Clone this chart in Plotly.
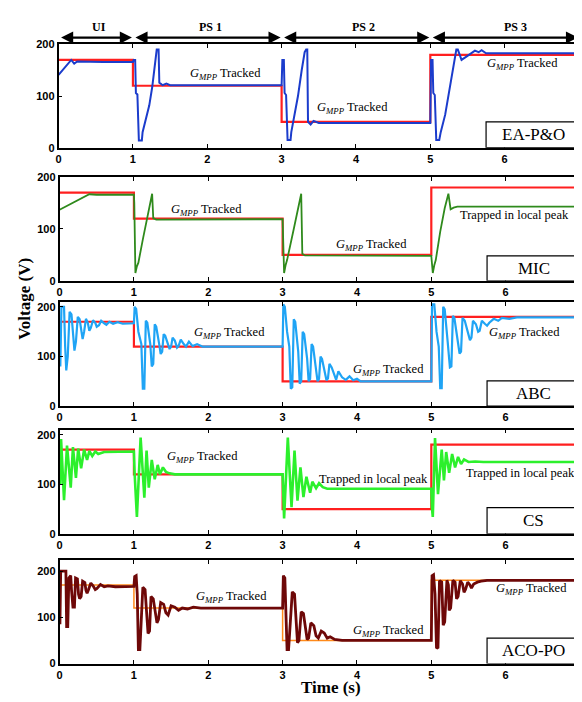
import plotly.graph_objects as go

# The page body has an 8 px margin, so the figure is laid out 8 px in from the window corner.
OFF = 8
WIN_W, WIN_H = 582, 702
W, H = WIN_W - OFF, WIN_H - OFF

# ---------------- data ----------------
# reference (true GMPP voltage) step profile
REF_T = [0, 1, 3, 5, 7]
REF_V = [170, 120, 50, 180, 180]

# EA-P&O
EA_T = [0, 0.17, 0.21, 0.25, 0.6, 1.0, 1.01, 1.03, 1.04, 1.06, 1.08, 1.12, 1.13, 1.17, 1.22, 1.26, 1.3, 1.32, 1.345, 1.355, 1.4, 1.45, 1.5,
        3.0, 3.01, 3.03, 3.04, 3.06, 3.08, 3.12, 3.13, 3.17, 3.22, 3.27, 3.31, 3.33, 3.345, 3.355, 3.39, 3.43, 3.5,
        5.0, 5.01, 5.03, 5.04, 5.06, 5.08, 5.12, 5.14, 5.2, 5.26, 5.31, 5.35, 5.37, 5.42, 5.5, 5.6, 5.65, 5.69, 5.75, 5.8, 7.0]
EA_V = [141, 170, 163, 167, 166, 166, 170, 170, 106, 103, 14, 14, 30, 56, 82, 118, 165, 190, 190, 126, 121, 124, 121,
        121, 170, 170, 106, 102, 15, 15, 30, 60, 100, 150, 185, 190, 190, 50, 45, 52, 48,
        48, 170, 170, 106, 102, 15, 15, 30, 64, 115, 159, 190, 190, 170, 178, 188, 185, 189, 183, 183, 183]

# MIC
MIC_T = [0, 0.4, 0.5, 1.0, 1.005, 1.02, 1.04, 1.06, 1.12, 1.2, 1.245, 1.26, 1.3, 3.0, 3.005, 3.02, 3.04, 3.06, 3.15, 3.21, 3.25, 3.265, 3.3,
         5.0, 5.005, 5.02, 5.04, 5.06, 5.12, 5.18, 5.23, 5.26, 5.3, 5.35, 7.0]
MIC_V = [137, 167, 166, 166, 150, 15, 28, 35, 80, 135, 168, 121, 118, 119, 100, 15, 30, 40, 100, 145, 168, 52, 49,
         48, 40, 15, 30, 40, 95, 140, 168, 138, 141, 143, 143]

# ABC
ABC_T = [0, 0.01, 0.025, 0.06, 0.075, 0.09, 0.11, 0.135, 0.16, 0.18, 0.2, 0.22, 0.245, 0.27, 0.29, 0.31, 0.33, 0.355, 0.38, 0.4, 0.42,
         0.45, 0.48, 0.5, 0.53, 0.56, 0.6, 0.63, 0.67, 0.72, 0.78, 0.85, 1.0,
         1.01, 1.03, 1.06, 1.1, 1.12, 1.14, 1.16, 1.18, 1.22, 1.24, 1.26, 1.28, 1.3, 1.34, 1.36, 1.38, 1.4, 1.42, 1.46, 1.48, 1.5, 1.52,
         1.55, 1.58, 1.6, 1.63, 1.67, 1.7, 1.74, 1.79, 1.85, 1.92, 3.0,
         3.01, 3.03, 3.06, 3.09, 3.11, 3.13, 3.15, 3.17, 3.21, 3.23, 3.25, 3.27, 3.29, 3.33, 3.35, 3.37, 3.39, 3.41, 3.45, 3.47, 3.49,
         3.51, 3.53, 3.57, 3.59, 3.61, 3.63, 3.66, 3.7, 3.72, 3.75, 3.8, 3.85, 3.9, 3.95, 4.0, 4.05, 5.0,
         5.01, 5.04, 5.07, 5.1, 5.12, 5.14, 5.16, 5.18, 5.22, 5.25, 5.27, 5.29, 5.31, 5.35, 5.38, 5.4, 5.42, 5.45, 5.49, 5.52, 5.54,
         5.56, 5.6, 5.63, 5.65, 5.68, 5.72, 5.75, 5.78, 5.84, 5.9, 5.95, 6.05, 6.15, 7.0]
ABC_V = [140, 80, 200, 200, 120, 72, 100, 190, 185, 145, 112, 130, 180, 175, 150, 135, 150, 176, 168, 152, 158,
         173, 168, 160, 163, 172, 167, 164, 170, 166, 169, 166, 167,
         200, 196, 150, 125, 35, 35, 172, 168, 125, 80, 85, 165, 160, 125, 105, 110, 145, 142, 122, 115, 120, 138,
         132, 118, 121, 134, 125, 120, 130, 121, 125, 120, 120,
         205, 200, 150, 120, 35, 38, 175, 170, 110, 45, 50, 150, 145, 95, 50, 55, 125, 120, 80, 50, 55,
         100, 95, 70, 52, 56, 85, 78, 60, 53, 70, 58, 53, 60, 52, 55, 50, 50,
         205, 205, 150, 120, 36, 36, 200, 195, 130, 78, 80, 182, 178, 140, 106, 110, 178, 172, 150, 133, 138,
         172, 165, 150, 152, 172, 166, 162, 168, 176, 172, 178, 176, 179, 179]

# CS
CS_T = [0, 0.01, 0.02, 0.03, 0.06, 0.1, 0.15, 0.18, 0.22, 0.25, 0.29, 0.33, 0.37, 0.4, 0.44, 0.48, 0.52, 0.6, 1.0,
        1.01, 1.04, 1.09, 1.14, 1.17, 1.2, 1.24, 1.28, 1.32, 1.35, 1.39, 1.43, 1.48, 1.55, 3.0,
        3.01, 3.02, 3.07, 3.12, 3.16, 3.2, 3.24, 3.28, 3.32, 3.37, 3.4, 3.45, 3.49, 3.54, 3.6, 5.0,
        5.01, 5.02, 5.05, 5.09, 5.14, 5.17, 5.2, 5.24, 5.28, 5.32, 5.36, 5.4, 5.44, 5.5, 5.59, 5.7, 7.0]
CS_V = [140, 100, 191, 150, 68, 178, 93, 175, 113, 172, 132, 170, 149, 167, 157, 166, 161, 165, 166,
        120, 34, 194, 73, 168, 93, 149, 110, 139, 120, 134, 125, 122, 120, 120,
        60, 31, 194, 54, 168, 67, 134, 74, 115, 83, 105, 92, 102, 94, 91, 91,
        50, 34, 193, 80, 170, 108, 165, 123, 161, 134, 155, 141, 150, 145, 146, 145, 145]

# ACO-PO
ACO_T = [0, 0.005, 0.015, 0.085, 0.095, 0.11, 0.125, 0.15, 0.16, 0.18, 0.2, 0.215, 0.24, 0.255, 0.27, 0.29, 0.31, 0.34, 0.355, 0.37,
         0.39, 0.42, 0.45, 0.48, 0.5, 0.55, 0.6, 0.65, 0.75, 1.0,
         1.01, 1.03, 1.045, 1.06, 1.08, 1.1, 1.12, 1.15, 1.17, 1.19, 1.21, 1.23, 1.26, 1.29, 1.31, 1.33, 1.36, 1.4, 1.43, 1.46, 1.5,
         1.55, 1.6, 1.65, 1.72, 1.8, 1.9, 3.0,
         3.01, 3.03, 3.045, 3.06, 3.08, 3.11, 3.13, 3.16, 3.18, 3.2, 3.22, 3.25, 3.28, 3.31, 3.33, 3.35, 3.38, 3.42, 3.45, 3.48, 3.52,
         3.56, 3.6, 3.64, 3.7, 3.8, 5.0,
         5.01, 5.03, 5.05, 5.07, 5.09, 5.11, 5.14, 5.15, 5.16, 5.18, 5.21, 5.23, 5.24, 5.26, 5.29, 5.32, 5.34, 5.36, 5.39, 5.42, 5.44,
         5.46, 5.49, 5.52, 5.54, 5.57, 5.62, 5.67, 5.75, 7.0]
ACO_V = [138, 85, 200, 200, 80, 80, 185, 190, 160, 122, 122, 185, 183, 150, 140, 145, 178, 175, 158, 152,
         160, 174, 168, 160, 162, 171, 166, 168, 166, 167,
         188, 190, 150, 30, 30, 100, 165, 160, 120, 65, 70, 145, 140, 110, 88, 95, 132, 128, 110, 105, 125,
         122, 115, 120, 118, 122, 120, 120,
         190, 185, 120, 30, 30, 120, 155, 150, 100, 45, 50, 112, 108, 70, 52, 55, 88, 82, 60, 55, 70,
         66, 55, 58, 52, 50, 50,
         190, 192, 150, 33, 35, 179, 176, 120, 83, 90, 180, 170, 115, 120, 180, 176, 140, 145, 179, 172, 154,
         160, 176, 170, 163, 172, 176, 178, 180, 180]

NAMES = ["EA-P&O", "MIC", "ABC", "CS", "ACO-PO"]
PHASES = ["UI", "PS 1", "PS 2", "PS 3"]
PHASE_BOUNDS = [0, 1, 3, 5, 7]
X_TICKS = [0, 1, 2, 3, 4, 5, 6, 7]
Y_TICKS = [0, 100, 200]

G = "<i>G</i><sub><i>MPP</i></sub> Tracked"
TRAP = "Trapped in local peak"


def px(x):  # window x pixel -> paper fraction
    return (x - OFF) / W


def py(y):  # window y pixel -> paper fraction (from bottom)
    return 1 - (y - OFF) / H


# ---------------- layout geometry (window pixels) ----------------
panels = [
    dict(t=EA_T, v=EA_V, left=56, top=39, bot=144, ymax=200, col="#1b3ccc", ref="#ff1f1f", rw=2.2, cw=2.0, box=50,
         notes=[(2.24, 143, G), (3.95, 76, G), (6.24, 162, G)]),
    dict(t=MIC_T, v=MIC_V, left=57, top=174, bot=279.5, ymax=200, col="#2f8a1c", ref="#ff1f1f", rw=2.2, cw=1.8, box=48,
         notes=[(1.97, 137, G), (4.19, 70, G), (6.12, 126, TRAP)]),
    dict(t=ABC_T, v=ABC_V, left=57, top=301, bot=407, ymax=210, col="#1fa4f5", ref="#ff1f1f", rw=2.2, cw=2.2, box=51,
         notes=[(2.29, 148, G), (4.43, 72, G), (6.25, 147, G)]),
    dict(t=CS_T, v=CS_V, left=57, top=431, bot=537, ymax=210, col="#2cf02c", ref="#ff1f1f", rw=2.2, cw=2.6, box=53,
         notes=[(1.92, 154, G), (4.22, 110, TRAP), (6.2, 123, TRAP)]),
    dict(t=ACO_T, v=ACO_V, left=57, top=564, bot=669, ymax=223, col="#6e0808", ref="#ff8a1a", rw=1.5, cw=2.8, box=55,
         notes=[(2.31, 143, G), (4.43, 70, G), (6.35, 162, G)]),
]

PX_PER_S = 75.0
BOX_T0 = 5.75
fig = go.Figure()
layout = dict(width=W, height=H, margin=dict(l=0, r=0, t=0, b=0), autosize=False,
              paper_bgcolor="white", plot_bgcolor="white", showlegend=False)
annotations = []
shapes = []

tickfont = dict(family="Liberation Sans", size=11, color="black", weight="bold")
notefont = dict(family="Liberation Serif", size=12.5, color="black")

for i, p in enumerate(panels):
    n = "" if i == 0 else str(i + 1)
    xa, ya = "x" + n, "y" + n
    xmax = (WIN_W - p["left"]) / PX_PER_S
    fig.add_trace(go.Scatter(x=REF_T, y=REF_V, mode="lines", line_shape="hv",
                             line=dict(color=p["ref"], width=p["rw"]), xaxis=xa, yaxis=ya, hoverinfo="skip"))
    fig.add_trace(go.Scatter(x=p["t"], y=p["v"], mode="lines",
                             line=dict(color=p["col"], width=p["cw"]), xaxis=xa, yaxis=ya, hoverinfo="skip"))
    xt = X_TICKS if i == 0 else X_TICKS[:-1]
    layout["xaxis" + n] = dict(domain=[px(p["left"]), 1.0], range=[0, xmax], anchor=ya,
                               tickvals=xt, ticktext=[str(v) for v in xt], ticks="inside", ticklen=4,
                               tickcolor="black", showline=True, linecolor="black", linewidth=1.6, mirror="ticks",
                               showgrid=False, zeroline=False, tickfont=tickfont)
    layout["yaxis" + n] = dict(domain=[py(p["bot"]), py(p["top"])], range=[0, p["ymax"]], anchor=xa,
                               tickvals=Y_TICKS, ticks="inside", ticklen=4, tickcolor="black",
                               showline=True, linecolor="black", linewidth=1.6, mirror="ticks",
                               showgrid=False, zeroline=False, tickfont=tickfont)
    # method label box
    shapes.append(dict(type="rect", xref=xa, yref=ya, x0=BOX_T0, x1=xmax + 0.2, y0=0, y1=p["box"],
                       line=dict(color="black", width=1.2), fillcolor="white", layer="above"))
    box_left_px = p["left"] + BOX_T0 * PX_PER_S
    annotations.append(dict(xref="paper", yref=ya, x=px((box_left_px + WIN_W) / 2), y=p["box"] / 2,
                            text=NAMES[i], showarrow=False, xanchor="center", yanchor="middle",
                            font=dict(family="Liberation Serif", size=17, color="black")))
    for (tx, vy, txt) in p["notes"]:
        annotations.append(dict(xref=xa, yref=ya, x=tx, y=vy, text=txt, showarrow=False,
                                xanchor="center", yanchor="middle", font=notefont))

# phase arrows and labels on top
for k in range(4):
    a, b = PHASE_BOUNDS[k], PHASE_BOUNDS[k + 1]
    annotations.append(dict(xref="x", yref="paper", x=b, y=py(32), ax=a, ay=0, axref="x", ayref="pixel",
                            text="", showarrow=True, arrowhead=2, startarrowhead=2, arrowside="end+start",
                            arrowsize=1.1, startarrowsize=1.1, arrowwidth=2.2, arrowcolor="black",
                            standoff=1, startstandoff=1))
    annotations.append(dict(xref="x", yref="paper", x=(a + b) / 2 + 0.05 * max(k, 1), y=py(21),
                            text=PHASES[k], showarrow=False, xanchor="center", yanchor="middle",
                            font=dict(family="Liberation Serif", size=12, color="black", weight="bold")))

annotations.append(dict(xref="paper", yref="paper", x=px(331), y=py(693), text="Time (s)", showarrow=False,
                        xanchor="center", yanchor="middle",
                        font=dict(family="Liberation Serif", size=17, color="black", weight="bold")))
annotations.append(dict(xref="paper", yref="paper", x=px(22), y=py(298), text="Voltage (V)", showarrow=False,
                        textangle=-90, xanchor="center", yanchor="middle",
                        font=dict(family="Liberation Serif", size=17, color="black", weight="bold")))

layout["annotations"] = annotations
layout["shapes"] = shapes
fig.update_layout(**layout)
fig.write_html("out.html")
